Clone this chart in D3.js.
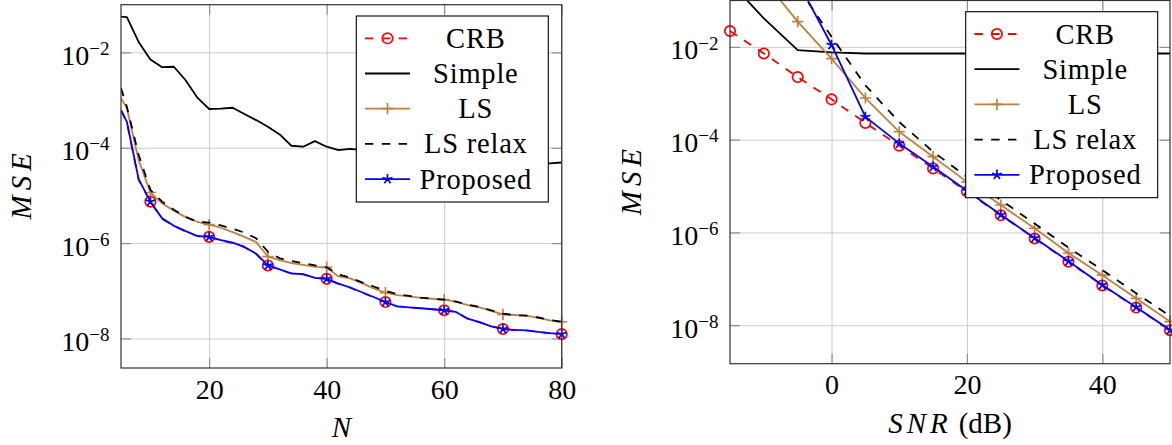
<!DOCTYPE html>
<html><head><meta charset="utf-8">
<script src="https://cdn.jsdelivr.net/npm/d3@7"></script>
<style>body{margin:0;background:#fff} svg{display:block}</style>
</head><body>
<svg id="chart" width="1172" height="445"></svg>
<script>
// ---------- DATA ----------
const seriesNames = ["CRB", "Simple", "LS", "LS relax", "Proposed"];

// Left panel: MSE versus N
const leftN = [5,6,8,10,12,14,16,18,20,22,24,26,28,30,32,34,36,38,40,42,44,46,48,50,52,54,56,58,60,62,64,66,68,70,72,74,76,78,80];
const leftCRB = [6.0e-4,3.4e-4,2.1e-5,7.4e-6,3.2e-6,2.3e-6,1.75e-6,1.40e-6,1.35e-6,
  1.14e-6,1.0e-6,8.2e-7,5.9e-7,3.4e-7,2.8e-7,2.3e-7,2.2e-7,1.85e-7,1.78e-7,
  1.40e-7,1.16e-7,9.2e-8,7.3e-8,5.8e-8,4.7e-8,4.5e-8,4.3e-8,4.1e-8,3.9e-8,
  3.6e-8,2.6e-8,2.2e-8,1.8e-8,1.58e-8,1.5e-8,1.47e-8,1.37e-8,1.28e-8,1.23e-8];
const leftSimple = [5.6e-2,5.5e-2,1.66e-2,7.1e-3,4.9e-3,5.0e-3,2.6e-3,1.12e-3,6.5e-4,
  6.6e-4,6.9e-4,5.1e-4,3.8e-4,2.75e-4,1.9e-4,1.1e-4,1.05e-4,1.38e-4,1.05e-4,
  8.9e-5,9.5e-5,8.9e-5,7.9e-5,7.6e-5,7.9e-5,7.1e-5,6.3e-5,6.6e-5,6.0e-5,
  5.6e-5,5.75e-5,5.25e-5,5.0e-5,5.1e-5,4.9e-5,4.8e-5,4.7e-5,4.7e-5,4.9e-5];
const leftLS = [1.1e-3,6.8e-4,5.5e-5,1.15e-5,6.8e-6,4.8e-6,3.5e-6,2.8e-6,2.45e-6,
  2.1e-6,1.7e-6,1.35e-6,1.05e-6,5.2e-7,4.4e-7,3.8e-7,3.5e-7,3.16e-7,3.1e-7,
  2.0e-7,1.82e-7,1.45e-7,1.12e-7,9.1e-8,8.1e-8,7.6e-8,7.1e-8,6.8e-8,6.5e-8,
  5.9e-8,5.0e-8,4.5e-8,3.8e-8,3.2e-8,3.1e-8,3.0e-8,2.7e-8,2.4e-8,2.24e-8];
const leftLSrelax = [1.78e-3,7.2e-4,7.1e-5,1.3e-5,7.4e-6,5.0e-6,3.55e-6,2.8e-6,2.7e-6,
  2.35e-6,2.0e-6,1.66e-6,1.26e-6,6.6e-7,4.8e-7,4.2e-7,3.8e-7,3.4e-7,3.1e-7,
  2.2e-7,1.9e-7,1.5e-7,1.23e-7,1.0e-7,8.5e-8,7.8e-8,7.2e-8,6.8e-8,6.5e-8,
  5.9e-8,5.1e-8,4.6e-8,3.9e-8,3.3e-8,3.1e-8,3.0e-8,2.75e-8,2.45e-8,2.24e-8];
const leftProposed = [6.2e-4,3.5e-4,2.2e-5,7.4e-6,3.3e-6,2.3e-6,1.78e-6,1.41e-6,1.35e-6,
  1.15e-6,1.02e-6,8.3e-7,6.0e-7,3.4e-7,2.8e-7,2.3e-7,2.24e-7,1.86e-7,1.78e-7,
  1.41e-7,1.17e-7,9.3e-8,7.4e-8,5.8e-8,4.7e-8,4.5e-8,4.3e-8,4.1e-8,3.9e-8,
  3.6e-8,2.6e-8,2.2e-8,1.8e-8,1.58e-8,1.51e-8,1.48e-8,1.38e-8,1.29e-8,1.23e-8];
const leftMarkN = [10,20,30,40,50,60,70,80];
const leftXTicks = [20,40,60,80];
const leftXDomain = [5,80];
const leftYDomain = [2.4e-9, 1e-1];

// Right panel: MSE versus SNR (dB)
const rightSNR = [-15,-10,-5,0,5,10,15,20,25,30,35,40,45,50];
const rightCRB = [2.2e-2,7.2e-3,2.24e-3,7.4e-4,2.3e-4,7.4e-5,2.4e-5,7.6e-6,2.34e-6,7.4e-7,2.34e-7,7.2e-8,2.4e-8,7.8e-9];
const rightSimple = [0.25,4.1e-2,8.5e-3,7.6e-3,7.2e-3,7.2e-3,7.2e-3,7.2e-3,7.2e-3,7.2e-3,7.2e-3,7.2e-3,7.2e-3,7.2e-3];
const rightLS = [1.26,0.28,3.5e-2,5.6e-3,7.9e-4,1.48e-4,4.3e-5,1.23e-5,3.9e-6,1.23e-6,3.6e-7,1.2e-7,3.8e-8,1.2e-8];
const rightLSrelax = [2.0,0.63,0.195,1.66e-2,1.48e-3,2.4e-4,5.5e-5,1.58e-5,5.0e-6,1.55e-6,4.7e-7,1.55e-7,4.9e-8,1.58e-8];
const rightProposed = [1.58,0.63,0.26,1.1e-2,3.1e-4,8.3e-5,2.6e-5,7.9e-6,2.4e-6,7.6e-7,2.4e-7,7.4e-8,2.45e-8,7.9e-9];
const rightXTicks = [0,20,40];
const rightXDomain = [-15,50];
const rightYDomain = [1.48e-9, 1e-1];

const yTickValues = [1e-2,1e-4,1e-6,1e-8];
const yTickExponents = ["\u22122","\u22124","\u22126","\u22128"];

// ---------- STYLE ----------
const FONT = "'Times New Roman', Times, 'Liberation Serif', 'Nimbus Roman', 'Noto Serif', 'DejaVu Serif', FreeSerif, serif";
const styles = [
  {color:"#ff0000", dash:"8.4,8.4", mark:"circle"},
  {color:"#000000", dash:null, mark:null},
  {color:"#bf8040", dash:null, mark:"plus"},
  {color:"#000000", dash:"8.4,8.4", mark:null},
  {color:"#0000ff", dash:null, mark:"star"}
];
const LW = 1.8;

const svg = d3.select("#chart");

function markPath(type){
  if(type==="plus") return "M-5.6,0H5.6M0,-5.6V5.6";
  if(type==="star"){
    let p="";
    for(let k=0;k<5;k++){
      const a = -Math.PI/2 + k*2*Math.PI/5;
      p += `M0,0L${(5.2*Math.cos(a)).toFixed(2)},${(5.2*Math.sin(a)).toFixed(2)}`;
    }
    return p;
  }
  return null;
}

function drawMark(g, type, color, cx, cy){
  if(type==="circle"){
    g.append("circle").attr("cx",cx).attr("cy",cy).attr("r",5.2)
      .attr("fill","none").attr("stroke",color).attr("stroke-width",1.7);
  } else if(type){
    g.append("path").attr("transform",`translate(${cx},${cy})`).attr("d",markPath(type))
      .attr("fill","none").attr("stroke",color).attr("stroke-width",1.7);
  }
}

function txt(sel, size){
  return sel.style("font-family",FONT).style("font-size",size+"px").attr("fill","#000");
}

function panel(cfg){
  const {id, box, xDomain, yDomain, xTicks, xs, series, markFilter, legendPos, xLabel, yLabelX} = cfg;
  const [x0,y0,x1,y1] = box;
  const x = d3.scaleLinear().domain(xDomain).range([x0,x1]);
  const y = d3.scaleLog().domain(yDomain).range([y1,y0]);
  const g = svg.append("g");

  g.append("rect").attr("x",x0).attr("y",y0).attr("width",x1-x0).attr("height",y1-y0).attr("fill","#fff");

  // grid
  const gx = g.append("g").attr("transform",`translate(0,${y1})`)
    .call(d3.axisBottom(x).tickValues(xTicks).tickSize(-(y1-y0)).tickFormat(""));
  gx.select(".domain").remove();
  gx.selectAll("line").attr("stroke","#cccccc").attr("stroke-width",1);
  const gy = g.append("g").attr("transform",`translate(${x0},0)`)
    .call(d3.axisLeft(y).tickValues(yTickValues).tickSize(-(x1-x0)).tickFormat(""));
  gy.select(".domain").remove();
  gy.selectAll("line").attr("stroke","#cccccc").attr("stroke-width",1);

  // inner ticks on all four sides
  const tk = 10;
  const tb = g.append("g").attr("transform",`translate(0,${y1})`).call(d3.axisBottom(x).tickValues(xTicks).tickSize(-tk).tickFormat(""));
  const tt = g.append("g").attr("transform",`translate(0,${y0})`).call(d3.axisTop(x).tickValues(xTicks).tickSize(-tk).tickFormat(""));
  const tl = g.append("g").attr("transform",`translate(${x0},0)`).call(d3.axisLeft(y).tickValues(yTickValues).tickSize(-tk).tickFormat(""));
  const tr = g.append("g").attr("transform",`translate(${x1},0)`).call(d3.axisRight(y).tickValues(yTickValues).tickSize(-tk).tickFormat(""));
  [tb,tt,tl,tr].forEach(a=>{a.select(".domain").remove(); a.selectAll("line").attr("stroke","#8a8a8a").attr("stroke-width",1.1);});

  // labels: x
  const lx = g.append("g").attr("transform",`translate(0,${y1})`)
    .call(d3.axisBottom(x).tickValues(xTicks).tickSize(0).tickPadding(0));
  lx.select(".domain").remove();
  lx.attr("font-family",null).attr("font-size",null);
  txt(lx.selectAll("text"), 28).attr("y",30.5).attr("dy",null);

  // labels: y
  const ly = g.append("g").attr("transform",`translate(${x0},0)`)
    .call(d3.axisLeft(y).tickValues(yTickValues).tickSize(0).tickPadding(11.5).tickFormat(""));
  ly.select(".domain").remove();
  ly.attr("font-family",null).attr("font-size",null);
  txt(ly.selectAll(".tick text"), 28).attr("dy",null).attr("y",12)
    .each(function(d,i){
      const t = d3.select(this);
      t.append("tspan").text("10");
      t.append("tspan").attr("dy",-9.8).style("font-size","19px").text(yTickExponents[i]);
    });

  // curves
  const clipId = "clip-"+id;
  svg.append("clipPath").attr("id",clipId).append("rect")
    .attr("x",x0).attr("y",y0).attr("width",x1-x0).attr("height",y1-y0);
  const line = d3.line().x(d=>x(d[0])).y(d=>y(d[1]));
  series.forEach((vals,i)=>{
    const st = styles[i];
    const pts = d3.zip(xs, vals);
    g.append("path").attr("d",line(pts)).attr("fill","none")
      .attr("stroke",st.color).attr("stroke-width",LW)
      .attr("stroke-dasharray",st.dash).attr("stroke-linejoin","round")
      .attr("clip-path",`url(#${clipId})`);
    if(st.mark){
      const mg = g.append("g");
      pts.filter(p=>markFilter(p[0])).forEach(p=>{
        const cy = y(p[1]);
        if(cy>=y0-6 && cy<=y1+6) drawMark(mg, st.mark, st.color, x(p[0]), cy);
      });
    }
  });

  // frame
  g.append("rect").attr("x",x0).attr("y",y0).attr("width",x1-x0).attr("height",y1-y0)
    .attr("fill","none").attr("stroke","#333").attr("stroke-width",1.2);

  // axis titles
  xLabel(g, (x0+x1)/2);
  const mse = txt(g.append("text").attr("transform",`translate(${yLabelX},${(y0+y1)/2}) rotate(-90)`)
    .attr("text-anchor","middle"), 29).style("font-style","italic");
  ["M","S","E"].forEach((ch,k)=> mse.append("tspan").attr("dx", k ? 5 : 0).text(ch));

  // legend
  const [lx0, ly0] = legendPos;
  const lw = 192, lh = 186;
  const lg = g.append("g");
  lg.append("rect").attr("x",lx0).attr("y",ly0).attr("width",lw).attr("height",lh)
    .attr("fill","#fff").attr("stroke","#000").attr("stroke-width",1.1);
  seriesNames.forEach((name,i)=>{
    const st = styles[i];
    const yy = ly0 + 22.3 + i*35.2;
    lg.append("line").attr("x1",lx0+8.7).attr("x2",lx0+53.7).attr("y1",yy).attr("y2",yy)
      .attr("stroke",st.color).attr("stroke-width",LW).attr("stroke-dasharray",st.dash);
    if(st.mark) drawMark(lg, st.mark, st.color, lx0+31.2, yy);
    txt(lg.append("text").attr("x",lx0+119.5).attr("y",yy+9.5).attr("text-anchor","middle"), 28.5)
      .style("letter-spacing","0.8px").text(name);
  });
}

panel({
  id:"left", box:[121,4.7,561.7,368], xDomain:leftXDomain, yDomain:leftYDomain,
  xTicks:leftXTicks, xs:leftN,
  series:[leftCRB,leftSimple,leftLS,leftLSrelax,leftProposed],
  markFilter: n => leftMarkN.includes(n),
  legendPos:[356.3,16],
  yLabelX: 31,
  xLabel:(g,cx)=>{
    txt(g.append("text").attr("x",cx).attr("y",437).attr("text-anchor","middle"), 29)
      .style("font-style","italic").text("N");
  }
});

panel({
  id:"right", box:[730,0.5,1170,363.7], xDomain:rightXDomain, yDomain:rightYDomain,
  xTicks:rightXTicks, xs:rightSNR,
  series:[rightCRB,rightSimple,rightLS,rightLSrelax,rightProposed],
  markFilter: () => true,
  legendPos:[965.7,11.7],
  yLabelX: 641,
  xLabel:(g,cx)=>{
    const t = txt(g.append("text").attr("x",cx).attr("y",433).attr("text-anchor","middle"), 29);
    ["S","N","R"].forEach((ch,k)=> t.append("tspan").attr("dx", k ? 4 : 0).style("font-style","italic").text(ch));
    t.append("tspan").attr("dx",11).text("(dB)");
  }
});
</script>
</body></html>
